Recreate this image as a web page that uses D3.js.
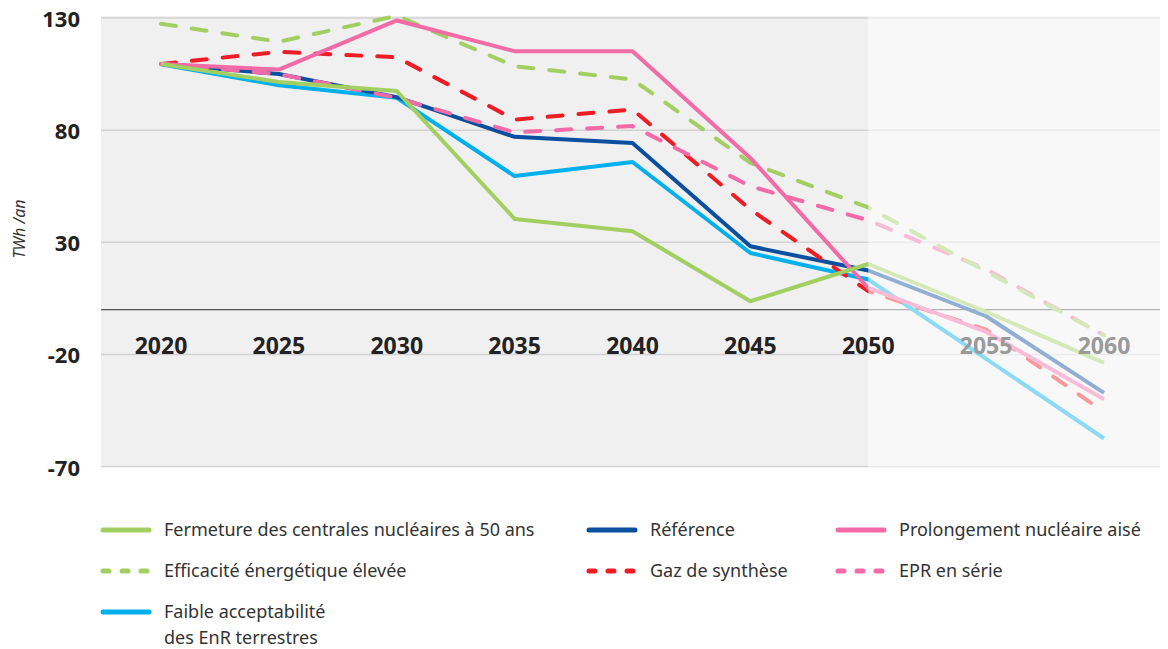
<!DOCTYPE html>
<html>
<head>
<meta charset="utf-8">
<style>
  body { margin: 0; background: #fff; }
  svg { display: block; font-family: "Noto Sans", sans-serif; }
  .ylab { font-size: 22px; font-weight: 700; fill: #222; }
  .xlab { font-size: 23px; font-weight: 700; }
  .legend text { font-size: 18px; fill: #333; }
</style>
</head>
<body>
<svg width="1168" height="649"></svg>
<script src="https://d3js.org/d3.v7.min.js"></script>
<script>
// data (TWh / an)
const years = [2020, 2025, 2030, 2035, 2040, 2045, 2050, 2055, 2060]
const fermeture    = [109.5, 101.5, 97.4, 40.4, 34.9, 3.7, 20.3, -1, -23.8]
const efficacite   = [127.4, 119.4, 131, 108.5, 102.6, 65.4, 45.5, 17, -11.5]
const faible       = [109.4, 100, 94.4, 59.5, 65.8, 25.2, 13.4, -22, -57.5]
const reference    = [109.5, 105, 94.7, 77, 74.3, 28.2, 17.4, -3, -37.2]
const gaz          = [109.5, 114.9, 112.5, 84.7, 89.2, 44.6, 8.2, -9, -45.7]
const prolongement = [109.5, 107, 128.9, 115.2, 115.2, 67.6, 9.6, -10, -40]
const epr          = [109.5, 105, 94.4, 79, 81.8, 55, 39.8, 18, -11.5]
const yTicks = [130, 80, 30, -20, -70]

const series = [
  {name: "Faible acceptabilité|des EnR terrestres", values: faible, color: "#00b0ec", dash: false, col: 0, row: 2},
  {name: "Référence", values: reference, color: "#0b4f9e", dash: false, col: 1, row: 0},
  {name: "Gaz de synthèse", values: gaz, color: "#ee1c25", dash: true, col: 1, row: 1},
  {name: "EPR en série", values: epr, color: "#f26aa6", dash: true, col: 2, row: 1},
  {name: "Efficacité énergétique élevée", values: efficacite, color: "#a3cf62", dash: true, col: 0, row: 1},
  {name: "Prolongement nucléaire aisé", values: prolongement, color: "#f26aa6", dash: false, col: 2, row: 0},
  {name: "Fermeture des centrales nucléaires à 50 ans", values: fermeture, color: "#a3cf62", dash: false, col: 0, row: 0}
]

const svg = d3.select("svg")

const x = d3.scaleLinear().domain([2020, 2060]).range([161, 1104])
const y = d3.scaleLinear().domain([-70, 130]).range([466.5, 18])

const left = 101, right = 1160, split = x(2050)

// backgrounds
svg.append("rect").attr("x", left).attr("y", 16).attr("width", right - left).attr("height", y(-70) - 16)
  .attr("fill", "#f0f0f0")

// grid
svg.append("g").selectAll("line").data(yTicks).join("line")
  .attr("x1", left).attr("x2", right)
  .attr("y1", d => y(d)).attr("y2", d => y(d))
  .attr("stroke", "#d2d2d2").attr("stroke-width", 1.5)

svg.append("line").attr("x1", left).attr("x2", right)
  .attr("y1", y(0)).attr("y2", y(0))
  .attr("stroke", "#555").attr("stroke-width", 1.2)

// lines
const line = d3.line().x((d, i) => x(years[i])).y(d => y(d))

svg.append("g").selectAll("path").data(series).join("path")
  .attr("d", d => line(d.values))
  .attr("fill", "none")
  .attr("stroke", d => d.color)
  .attr("stroke-width", 4)
  .attr("stroke-linejoin", "round")
  .attr("stroke-linecap", d => d.dash ? "round" : "butt")
  .attr("stroke-dasharray", d => d.dash ? "15,16" : null)

// faded part after 2050
svg.append("rect").attr("x", split).attr("y", 16).attr("width", right - split).attr("height", y(-70) - 16 + 1)
  .attr("fill", "#fff").attr("fill-opacity", 0.55)

// y labels
svg.append("g").selectAll("text").data(yTicks).join("text")
  .attr("class", "ylab")
  .attr("x", 80).attr("y", d => y(d) + 9)
  .attr("text-anchor", "end")
  .text(d => d)

// x labels
svg.append("g").selectAll("text").data(years).join("text")
  .attr("class", "xlab")
  .attr("x", d => x(d)).attr("y", 354)
  .attr("text-anchor", "middle")
  .attr("fill", d => d > 2050 ? "#9a9a9a" : "#222")
  .text(d => d)

svg.append("text")
  .attr("transform", "translate(25,229) rotate(-90)")
  .attr("text-anchor", "middle")
  .style("font-size", "16px").style("font-style", "italic").style("fill", "#333")
  .text("TWh /an")

// legend
const colX = [101, 587, 836]
const rowY = [530, 571, 612]
const lg = svg.append("g").attr("class", "legend")
series.forEach(s => {
  const g = lg.append("g").attr("transform", `translate(${colX[s.col]},${rowY[s.row]})`)
  g.append("line").attr("x1", 2).attr("x2", 48).attr("y1", 0).attr("y2", 0)
    .attr("stroke", s.color).attr("stroke-width", 5).attr("stroke-linecap", "round")
    .attr("stroke-dasharray", s.dash ? "6,13" : null)
  s.name.split("|").forEach((t, i) => {
    g.append("text").attr("x", 63).attr("y", 6 + i * 26).text(t)
  })
})
</script>
</body>
</html>
